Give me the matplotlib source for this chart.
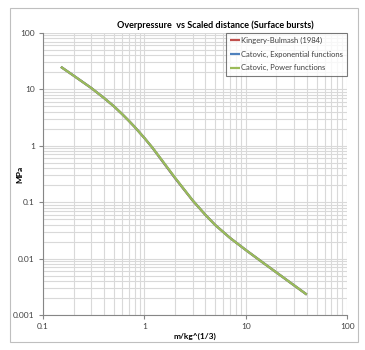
import matplotlib
matplotlib.use("Agg")
import matplotlib.pyplot as plt
from matplotlib.ticker import LogLocator, FixedLocator, FuncFormatter, NullFormatter
from matplotlib.patches import Rectangle

# scaled distance Z (m/kg^(1/3)) and incident overpressure (MPa)
z = [0.15, 0.2, 0.3, 0.4, 0.5, 0.6, 0.7, 0.8, 1.0, 1.2, 1.5, 2.0, 3.0,
     4.0, 5.0, 7.0, 10.0, 15.0, 20.0, 30.0, 40.0]
p_kb = [25.0, 17.5, 10.5, 7.0, 5.0, 3.67, 2.78, 2.16, 1.37, 0.92, 0.535,
        0.268, 0.106, 0.0594, 0.0393, 0.0232, 0.0142, 0.0083, 0.0057,
        0.00335, 0.0023]
p_exp = [25.0, 17.5, 10.5, 7.0, 5.0, 3.67, 2.78, 2.16, 1.37, 0.92, 0.54,
         0.27, 0.107, 0.0594, 0.0393, 0.0232, 0.0142, 0.0083, 0.0057,
         0.00335, 0.0023]
p_pow = [25.0, 17.5, 10.5, 7.0, 5.0, 3.67, 2.78, 2.16, 1.37, 0.925, 0.545,
         0.273, 0.107, 0.0594, 0.0393, 0.0232, 0.0142, 0.0083, 0.0057,
         0.00335, 0.0023]

series = [("Kingery-Bulmash (1984)", p_kb, "#C0504D"),
          ("Catovic, Exponential functions", p_exp, "#4F81BD"),
          ("Catovic, Power functions", p_pow, "#9BBB59")]

plt.rcParams['font.family'] = ['Lato', 'DejaVu Sans']

fig = plt.figure(figsize=(3.65, 3.5), dpi=100)
ax = fig.add_axes([0.118, 0.1, 0.833, 0.806])

# chart frame
fig.patches.append(Rectangle((10 / 365, 8 / 350), 348 / 365, 334 / 350,
                             transform=fig.transFigure, fill=False,
                             edgecolor="#bfbfbf", linewidth=0.8))

for name, vals, col in series:
    ax.plot(z, vals, color=col, linewidth=1.6, label=name, solid_capstyle="butt")

ax.set_xscale("log")
ax.set_yscale("log")
ax.set_xlim(0.1, 100)
ax.set_ylim(0.001, 100)

ax.xaxis.set_major_locator(FixedLocator([0.1, 1, 10, 100]))
ax.yaxis.set_major_locator(FixedLocator([0.001, 0.01, 0.1, 1, 10, 100]))
ax.xaxis.set_minor_locator(LogLocator(base=10, subs=range(2, 10)))
ax.yaxis.set_minor_locator(LogLocator(base=10, subs=range(2, 10)))
fmt = FuncFormatter(lambda v, _: "%g" % v)
ax.xaxis.set_major_formatter(fmt)
ax.yaxis.set_major_formatter(fmt)
ax.xaxis.set_minor_formatter(NullFormatter())
ax.yaxis.set_minor_formatter(NullFormatter())

ax.grid(True, which="both", color="#d9d9d9", linewidth=0.8)
ax.set_axisbelow(True)
for s in ("top", "right"):
    ax.spines[s].set_visible(False)
for s in ("left", "bottom"):
    ax.spines[s].set_color("#868686")
    ax.spines[s].set_linewidth(0.8)
ax.tick_params(which="major", length=3, width=0.8, color="#868686",
               labelsize=6, labelcolor="#404040", pad=3)
ax.tick_params(which="minor", length=0)

ax.set_xlabel("m/kg^(1/3)", fontsize=6, fontweight="bold", labelpad=2)
ax.set_ylabel("MPa", fontsize=6, fontweight="bold")
ax.yaxis.set_label_coords(-0.065, 0.5)
fig.text(0.589, 0.928, "Overpressure  vs Scaled distance (Surface bursts)",
         ha="center", va="center", fontsize=6.5, fontweight="bold")

leg = ax.legend(loc="upper right", bbox_to_anchor=(1.0, 1.0), borderaxespad=0,
                fontsize=5.5, frameon=True, fancybox=False, handlelength=1.3,
                handletextpad=0.15, borderpad=0.55, labelspacing=0.85)
leg.get_frame().set_edgecolor("#595959")
leg.get_frame().set_linewidth(0.8)
for t in leg.get_texts():
    t.set_color("#404040")

fig.savefig("out.png", dpi=100)
